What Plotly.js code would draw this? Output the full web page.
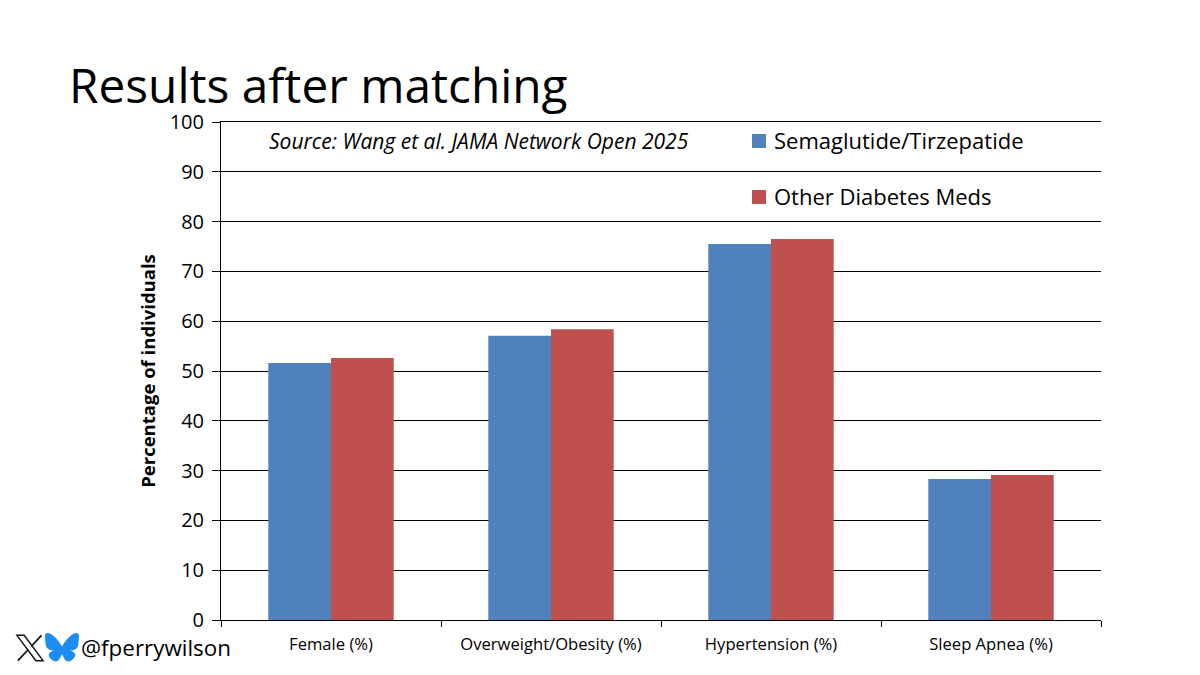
<!DOCTYPE html>
<html><head><meta charset="utf-8">
<script src="https://cdn.plot.ly/plotly-3.0.1.min.js"></script>
<style>html,body{margin:0;padding:0;background:#fff}</style></head>
<body><div id="c" style="width:1200px;height:675px"></div>
<script>
const categories=["Female (%)","Overweight/Obesity (%)","Hypertension (%)","Sleep Apnea (%)"];
const semaTirz=[51.6,57.1,75.5,28.3];
const otherMeds=[52.6,58.4,76.5,29.1];
const yTicks=[0,10,20,30,40,50,60,70,80,90,100];
const F="'Open Sans','Noto Sans',sans-serif";
const px=v=>(v-221)/880, py=v=>(620-v)/498;
const xLogo='<svg xmlns="http://www.w3.org/2000/svg" viewBox="0 0 24 24"><path fill="none" stroke="#111" stroke-width="1.1" d="M2.2 2.5h5.4l14.2 19h-5.4z"/><path fill="none" stroke="#111" stroke-width="1.3" d="M20.6 2.5l-7.6 8.2M10.6 13.3l-7.7 8.2"/></svg>';
const bskyLogo='<svg xmlns="http://www.w3.org/2000/svg" viewBox="0 0 64 57"><path fill="#1D8CF0" d="M13.9 3.8C21.2 9.3 29.1 20.5 32 26.5c2.9-6 10.8-17.2 18.1-22.7C55.4-.2 64-3.2 64 6.5c0 1.9-1.1 16.3-1.8 18.6-2.2 8.1-10.5 10.2-17.8 8.9 12.8 2.2 16 9.4 9 16.6-13.3 13.7-19.1-3.4-20.6-7.8-.3-.8-.4-1.2-.8-1.2s-.5.4-.8 1.2c-1.5 4.4-7.3 21.5-20.6 7.8-7-7.2-3.8-14.4 9-16.6-7.3 1.3-15.6-.8-17.8-8.9C1.1 22.8 0 8.4 0 6.5 0-3.2 8.6-.2 13.9 3.8z"/></svg>';
const uri=s=>"data:image/svg+xml;base64,"+btoa(s);
const trace=(n,y,c)=>({type:"bar",name:n,x:categories,y:y,marker:{color:c,line:{width:0}},width:0.285});
const note=(x,y,text,size)=>({xref:"paper",yref:"paper",xanchor:"left",yanchor:"middle",x:px(x),y:py(y),text:text,showarrow:false,borderpad:0,font:{size:size,family:F,color:"#000"}});
Plotly.newPlot("c",[trace("Semaglutide/Tirzepatide",semaTirz,"#4F81BD"),trace("Other Diabetes Meds",otherMeds,"#C0504D")],{
 width:1200,height:675,paper_bgcolor:"#fff",plot_bgcolor:"#fff",showlegend:false,barmode:"group",bargap:0.43,bargroupgap:0,
 margin:{l:221,r:99,t:122,b:55,pad:0},
 font:{family:F,color:"#000"},
 title:{text:"Results after matching",x:69/1200,xanchor:"left",y:1-86/675,yanchor:"middle",font:{size:47.8,family:F,color:"#000"}},
 xaxis:{type:"category",showgrid:false,showline:true,mirror:true,linecolor:"#000",linewidth:1,ticks:"outside",ticklen:6,tickson:"boundaries",tickcolor:"#000",tickfont:{size:16.6,family:F},ticklabelstandoff:9},
 yaxis:{range:[0,100],tickvals:yTicks,showgrid:true,gridcolor:"#000",gridwidth:1,showline:true,linecolor:"#000",ticks:"outside",ticklen:8,tickcolor:"#000",tickfont:{size:20,family:F},ticklabelstandoff:4,zeroline:false,
  title:{text:"<b>Percentage of individuals</b>",font:{size:18.5,family:F},standoff:9}},
 annotations:[
  note(268,141,"<i>Source: Wang et al. JAMA Network Open 2025</i>",21),
  note(773,140,"Semaglutide/Tirzepatide",22),
  note(773,196,"Other Diabetes Meds",22),
  note(80,647,"@fperrywilson",22.4)
 ],
 shapes:[
  {type:"rect",xref:"paper",yref:"paper",x0:px(752),x1:px(766),y0:py(148),y1:py(134),fillcolor:"#4F81BD",line:{width:0}},
  {type:"rect",xref:"paper",yref:"paper",x0:px(752),x1:px(766),y0:py(204),y1:py(190),fillcolor:"#C0504D",line:{width:0}}
 ],
 images:[
  {source:uri(xLogo),xref:"paper",yref:"paper",x:px(14),y:py(632),sizex:32/880,sizey:32/498,xanchor:"left",yanchor:"top",sizing:"stretch",layer:"above"},
  {source:uri(bskyLogo),xref:"paper",yref:"paper",x:px(45),y:py(633),sizex:34/880,sizey:29/498,xanchor:"left",yanchor:"top",sizing:"stretch",layer:"above"}
 ]
},{displayModeBar:false,staticPlot:true});
</script></body></html>
